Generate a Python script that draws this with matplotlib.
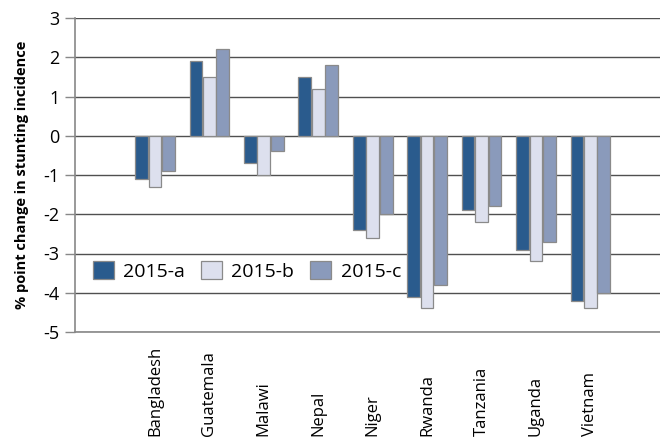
import matplotlib
matplotlib.use("Agg")
import matplotlib.pyplot as plt
import matplotlib.transforms as mtransforms
import numpy as np

categories = ["Bangladesh", "Guatemala", "Malawi", "Nepal", "Niger",
              "Rwanda", "Tanzania", "Uganda", "Vietnam"]
series_names = ["2015-a", "2015-b", "2015-c"]
vals_a = [-1.1, 1.9, -0.7, 1.5, -2.4, -4.1, -1.9, -2.9, -4.2]
vals_b = [-1.3, 1.5, -1.0, 1.2, -2.6, -4.4, -2.2, -3.2, -4.4]
vals_c = [-0.9, 2.2, -0.4, 1.8, -2.0, -3.8, -1.8, -2.7, -4.0]
y_ticks = [-5, -4, -3, -2, -1, 0, 1, 2, 3]

colors = ["#2a5b8d", "#dde0ee", "#8a9abb"]
edge = "#8a8a8a"

plt.rcParams['font.family'] = ['Open Sans', 'DejaVu Sans']

W, H = 660, 437
fig = plt.figure(figsize=(W / 100, H / 100), dpi=100)
ax = fig.add_axes([75 / W, 1 - 332 / H, (W - 75) / W, (332 - 18) / H])

x = np.arange(len(categories))
bw = 0.235
off = 0.247
for i, (vals, name) in enumerate(zip([vals_a, vals_b, vals_c], series_names)):
    ax.bar(x + (i - 1) * off, vals, width=bw, color=colors[i],
           edgecolor=edge, linewidth=0.9, label=name, zorder=2)

ax.set_ylim(-5, 3)
ax.set_xlim(-1.47, 9.28)
ax.set_yticks(y_ticks)
ax.set_yticklabels([str(v) for v in y_ticks], fontsize=13)
ax.yaxis.grid(True, color="#505050", linewidth=1.0, zorder=0)
ax.set_axisbelow(True)
ax.tick_params(axis='y', length=7, width=1, color="#888888", pad=4)
ax.tick_params(axis='x', length=0, labelbottom=False)
for s in ["top", "right"]:
    ax.spines[s].set_visible(False)
for s in ["left", "bottom"]:
    ax.spines[s].set_color("#888888")
    ax.spines[s].set_linewidth(1.2)

# category labels, bottom-anchored near the figure edge
trans = mtransforms.blended_transform_factory(ax.transData, fig.transFigure)
for i, c in enumerate(categories):
    ax.text(x[i], 1 / H, c, rotation=90, ha='center', va='bottom',
            fontsize=12, transform=trans, clip_on=False)

ax.set_ylabel("% point change in stunting incidence", fontsize=10.5,
              fontweight='bold')
ax.yaxis.set_label_coords(-(75 - 29) / (W - 75), 0.5)

ax.legend(loc='center left', bbox_to_anchor=(0.0, 0.194), ncol=3,
          frameon=False, fontsize=14, handlelength=1.08, handleheight=1.03,
          handletextpad=0.48, columnspacing=0.83, borderaxespad=0.5)

fig.savefig("out.png", dpi=100)
